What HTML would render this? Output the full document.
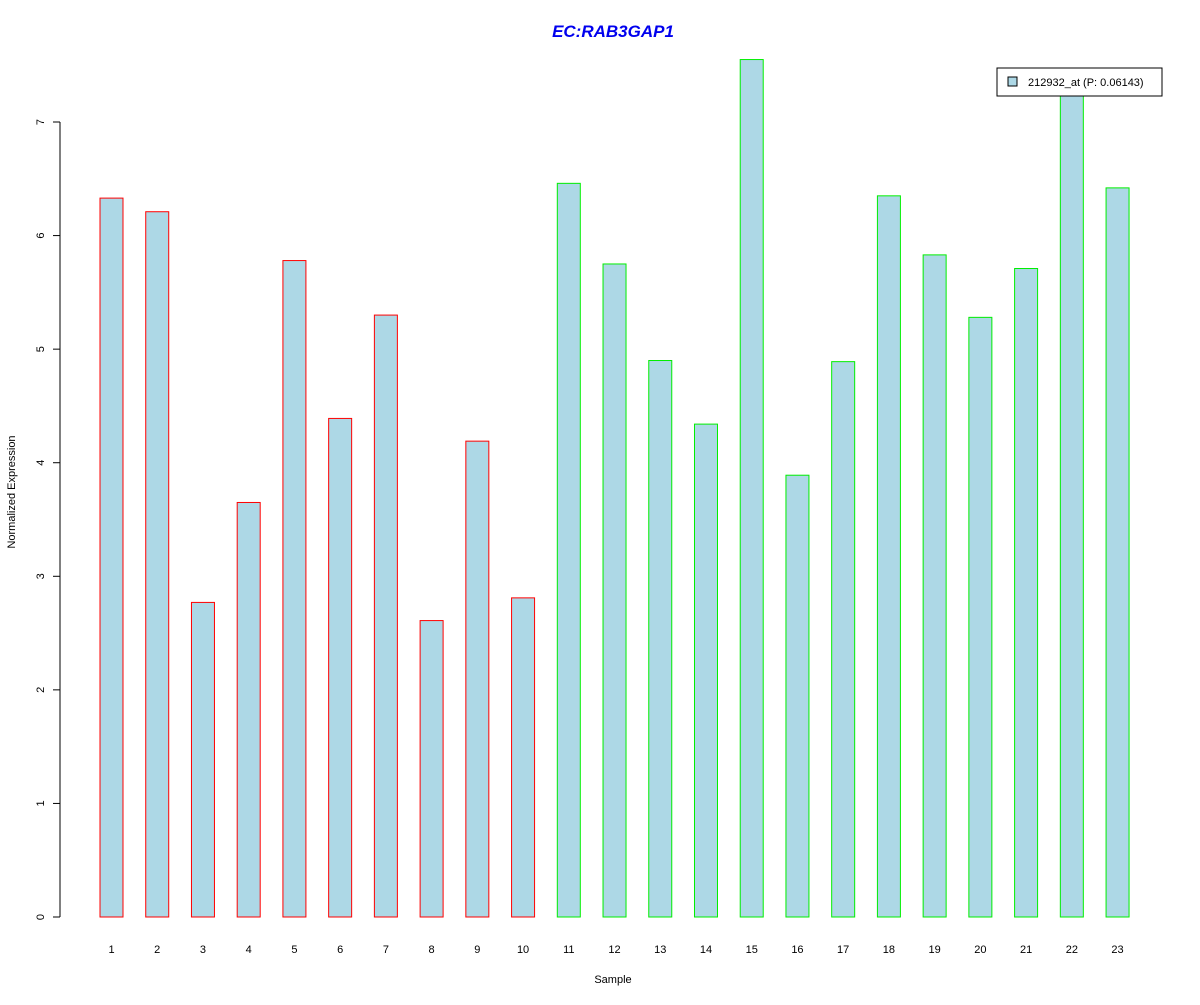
<!DOCTYPE html>
<html><head><meta charset="utf-8"><style>
body{margin:0;background:#fff;}
text{font-family:"Liberation Sans",Arial,sans-serif;}
</style></head><body>
<svg id="chart" width="1200" height="1000" xmlns="http://www.w3.org/2000/svg">
<rect width="1200" height="1000" fill="#fff"/>
<text x="613" y="37" text-anchor="middle" font-size="17" font-weight="bold" font-style="italic" fill="#0000ee">EC:RAB3GAP1</text>
<g id="bars"></g>
<g id="yaxis"></g>
<g id="xlabels"></g>
<text x="613" y="983" text-anchor="middle" font-size="11">Sample</text>
<text transform="translate(15,492) rotate(-90)" text-anchor="middle" font-size="11">Normalized Expression</text>
<g>
<rect x="997" y="68" width="165" height="28" fill="#fff" stroke="#000"/>
<rect x="1008" y="77" width="9" height="9" fill="#add8e6" stroke="#000"/>
<text x="1028" y="86" font-size="11">212932_at (P: 0.06143)</text>
</g>
</svg>
<script>
const categories=["1","2","3","4","5","6","7","8","9","10","11","12","13","14","15","16","17","18","19","20","21","22","23"];
const values=[6.33,6.21,2.77,3.65,5.78,4.39,5.30,2.61,4.19,2.81,6.46,5.75,4.90,4.34,7.55,3.89,4.89,6.35,5.83,5.28,5.71,7.30,6.42];
const groups=["a","a","a","a","a","a","a","a","a","a","b","b","b","b","b","b","b","b","b","b","b","b","b"];
const yTicks=[0,1,2,3,4,5,6,7];
const NS="http://www.w3.org/2000/svg";
const y=v=>917-v*113.57;
const x=i=>111.5+i*45.73;
const bars=document.getElementById('bars');
values.forEach((v,i)=>{
 const r=document.createElementNS(NS,'rect');
 
 
 r.setAttribute('x',x(i)-11.5);r.setAttribute('width',23);
 r.setAttribute('y',y(v));r.setAttribute('height',y(0)-y(v));
 r.setAttribute('fill','#add8e6');
 r.setAttribute('stroke',groups[i]==='a'?'#ff0000':'#00ee00');
 bars.appendChild(r);
 const t=document.createElementNS(NS,'text');
 
 
 t.setAttribute('x',x(i));t.setAttribute('y',953);
 t.setAttribute('text-anchor','middle');t.setAttribute('font-size','11');
 t.textContent=categories[i];
 document.getElementById('xlabels').appendChild(t);
});
const ya=document.getElementById('yaxis');
const l=document.createElementNS(NS,'line');
l.setAttribute('x1',60);l.setAttribute('x2',60);l.setAttribute('y1',y(yTicks[0]));l.setAttribute('y2',y(yTicks[yTicks.length-1]));l.setAttribute('stroke','#000');
ya.appendChild(l);
yTicks.forEach(v=>{
 const tk=document.createElementNS(NS,'line');
 tk.setAttribute('x1',53);tk.setAttribute('x2',60);tk.setAttribute('y1',y(v));tk.setAttribute('y2',y(v));tk.setAttribute('stroke','#000');
 ya.appendChild(tk);
 const t=document.createElementNS(NS,'text');
 
 
 t.setAttribute('transform','translate(44,'+y(v)+') rotate(-90)');
 t.setAttribute('text-anchor','middle');t.setAttribute('font-size','11');
 t.textContent=v;
 ya.appendChild(t);
});
</script>
</body></html>
